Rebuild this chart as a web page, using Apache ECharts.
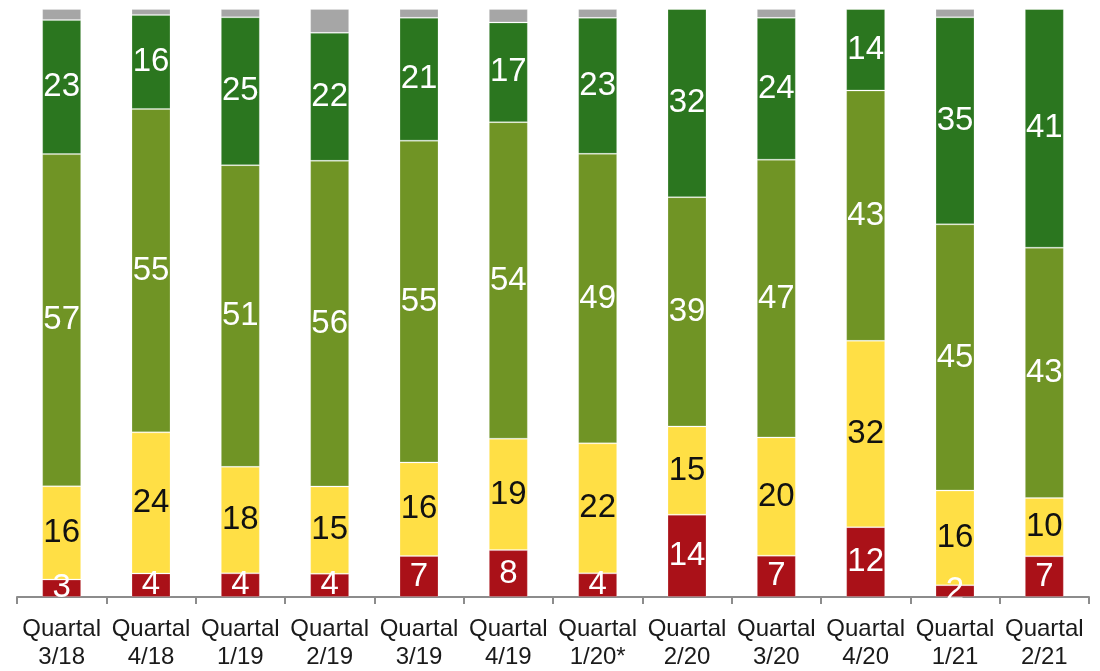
<!DOCTYPE html>
<html>
<head>
<meta charset="utf-8">
<script src="https://cdn.jsdelivr.net/npm/echarts@6/dist/echarts.min.js"></script>
<style>
  html, body { margin: 0; padding: 0; background: #ffffff; }
  #chart { width: 1100px; height: 671px; }
</style>
</head>
<body>
<div id="chart"></div>
<script>
// Quarters shown on the x axis
const quarters = ['3/18', '4/18', '1/19', '2/19', '3/19', '4/19', '1/20*', '2/20', '3/20', '4/20', '1/21', '2/21'];

// Shares per quarter, bottom to top of each column
const redValues    = [3, 4, 4, 4, 7, 8, 4, 14, 7, 12, 2, 7];
const yellowValues = [16, 24, 18, 15, 16, 19, 22, 15, 20, 32, 16, 10];
const oliveValues  = [57, 55, 51, 56, 55, 54, 49, 39, 47, 43, 45, 43];
const darkValues   = [23, 16, 25, 22, 21, 17, 23, 32, 24, 14, 35, 41];
const greyValues   = [1.9, 1, 1.4, 4.1, 1.5, 2.3, 1.5, 0, 1.5, 0, 1.4, 0];

const FONT = '"Liberation Sans", Arial, sans-serif';

// Every column is scaled to a full 100 %
const totals = quarters.map((_, i) =>
  redValues[i] + yellowValues[i] + oliveValues[i] + darkValues[i] + greyValues[i]);
const toShare = arr => arr.map((v, i) => v / totals[i] * 100);

function makeSeries(name, values, color, labelColor) {
  return {
    name: name,
    type: 'bar',
    stack: 'all',
    barWidth: 39,
    data: toShare(values),
    itemStyle: { color: color, borderColor: 'rgba(255,255,255,0.22)', borderWidth: 1 },
    label: labelColor ? {
      show: true,
      position: 'inside',
      color: labelColor,
      fontFamily: FONT,
      fontSize: 33,
      formatter: p => String(values[p.dataIndex])
    } : { show: false },
    emphasis: { disabled: true }
  };
}

const chart = echarts.init(document.getElementById('chart'), null, { renderer: 'canvas' });
chart.setOption({
  animation: false,
  backgroundColor: '#ffffff',
  grid: { left: 17, right: 11, top: 9, bottom: 73, containLabel: false },
  xAxis: {
    type: 'category',
    data: quarters,
    boundaryGap: true,
    axisLine: { lineStyle: { color: '#8c8c8c', width: 2 } },
    axisTick: { show: true, alignWithLabel: false, length: 7, lineStyle: { color: '#8c8c8c', width: 2 } },
    axisLabel: {
      interval: 0,
      margin: 18,
      color: '#1a1a1a',
      fontFamily: FONT,
      fontSize: 24,
      lineHeight: 28,
      formatter: v => 'Quartal\n' + v
    }
  },
  yAxis: {
    type: 'value',
    min: 0,
    max: 100,
    show: false,
    splitLine: { show: false }
  },
  series: [
    makeSeries('rot', redValues, '#aa1118', '#ffffff'),
    makeSeries('gelb', yellowValues, '#ffdf45', '#111111'),
    makeSeries('hellgrün', oliveValues, '#709425', '#ffffff'),
    makeSeries('dunkelgrün', darkValues, '#2b761f', '#ffffff'),
    makeSeries('keine Angabe', greyValues, '#a6a6a6', null)
  ]
});
</script>
</body>
</html>
